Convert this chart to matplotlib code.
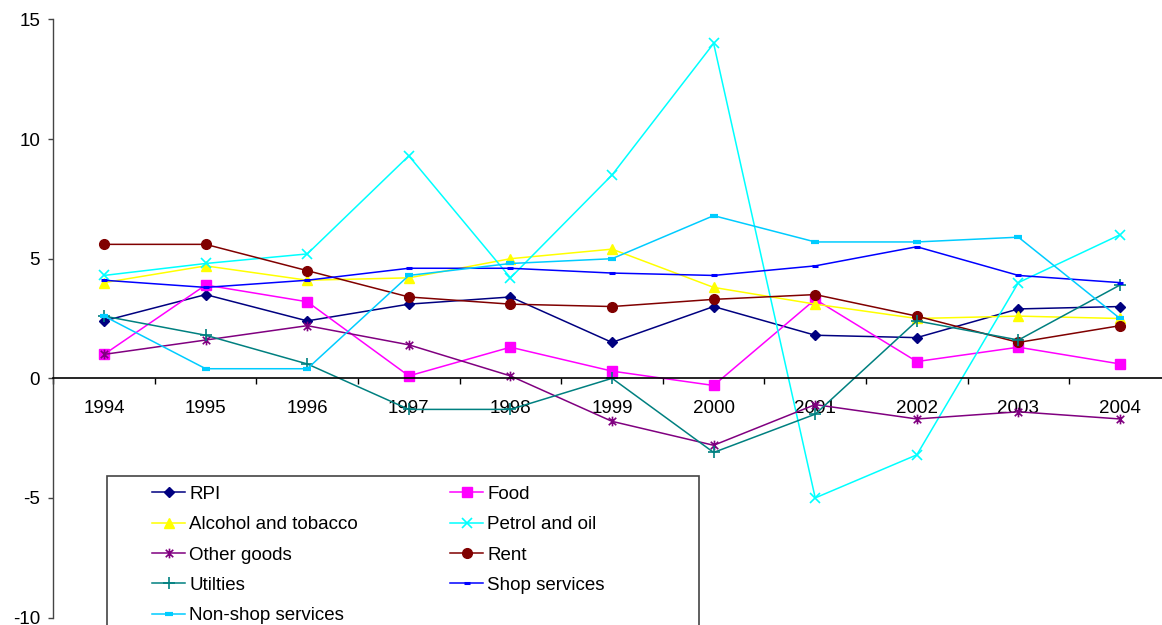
import matplotlib
matplotlib.use("Agg")
import matplotlib.pyplot as plt
from matplotlib.path import Path
from matplotlib.patches import Rectangle
import numpy as np

plt.rcParams['font.family'] = ['Liberation Sans', 'DejaVu Sans']
plt.rcParams['axes.unicode_minus'] = False

years = ['1994', '1995', '1996', '1997', '1998', '1999',
         '2000', '2001', '2002', '2003', '2004']

rpi = [2.4, 3.5, 2.4, 3.1, 3.4, 1.5, 3.0, 1.8, 1.7, 2.9, 3.0]
food = [1.0, 3.9, 3.2, 0.1, 1.3, 0.3, -0.3, 3.3, 0.7, 1.3, 0.6]
alcohol_tobacco = [4.0, 4.7, 4.1, 4.2, 5.0, 5.4, 3.8, 3.1, 2.5, 2.6, 2.5]
petrol_oil = [4.3, 4.8, 5.2, 9.3, 4.2, 8.5, 14.0, -5.0, -3.2, 4.0, 6.0]
other_goods = [1.0, 1.6, 2.2, 1.4, 0.1, -1.8, -2.8, -1.1, -1.7, -1.4, -1.7]
rent = [5.6, 5.6, 4.5, 3.4, 3.1, 3.0, 3.3, 3.5, 2.6, 1.5, 2.2]
utilities = [2.6, 1.8, 0.6, -1.3, -1.3, 0.0, -3.1, -1.5, 2.4, 1.6, 3.9]
shop_services = [4.1, 3.8, 4.1, 4.6, 4.6, 4.4, 4.3, 4.7, 5.5, 4.3, 4.0]
non_shop_services = [2.6, 0.4, 0.4, 4.3, 4.8, 5.0, 6.8, 5.7, 5.7, 5.9, 2.5]

# Excel-style star: an "x" crossed by a vertical stroke
star = Path([(-1, -1), (1, 1), (-1, 1), (1, -1), (0, -1.3), (0, 1.3)],
            [Path.MOVETO, Path.LINETO, Path.MOVETO, Path.LINETO,
             Path.MOVETO, Path.LINETO])

series = [
    ("RPI", rpi, dict(color='#000080', marker='D', ms=5, mfc='#000080')),
    ("Food", food, dict(color='#FF00FF', marker='s', ms=6.5, mfc='#FF00FF')),
    ("Alcohol and tobacco", alcohol_tobacco,
     dict(color='#FFFF00', marker='^', ms=7.5, mfc='#FFFF00')),
    ("Petrol and oil", petrol_oil,
     dict(color='#00FFFF', marker='x', ms=7, mew=1.2)),
    ("Other goods", other_goods,
     dict(color='#800080', marker=star, ms=7, mew=1.2)),
    ("Rent", rent, dict(color='#800000', marker='o', ms=7, mfc='#800000')),
    ("Utilties", utilities,
     dict(color='#008080', marker='+', ms=8, mew=1.2)),
    ("Shop services", shop_services,
     dict(color='#0000FF', marker='_', ms=4, mew=2.2)),
    ("Non-shop services", non_shop_services,
     dict(color='#00CCFF', marker='_', ms=6, mew=3)),
]

W, H = 1162, 625
fig = plt.figure(figsize=(W / 100, H / 100), dpi=100)

x0, x1 = 53.3, 1170.8
y_top, y_bot = 19.5, 617.5
ax = fig.add_axes([x0 / W, (H - y_bot) / H, (x1 - x0) / W, (y_bot - y_top) / H])

x = np.arange(len(years))
handles = {}
for name, vals, style in series:
    line, = ax.plot(x, vals, lw=1.1, label=name, clip_on=False, **style)
    handles[name] = line

ax.set_xlim(-0.5, len(years) - 0.5)
ax.set_ylim(-10, 15)
ax.set_yticks([-10, -5, 0, 5, 10, 15])
ax.tick_params(axis='y', direction='out', length=3.5, width=1,
               color='#444444', labelsize=13.5, pad=6)

# category boundaries carry the tick marks, labels sit at the centres
ax.set_xticks(np.arange(-0.5, len(years), 1.0))
ax.set_xticklabels([])
ax.set_xticks(x, minor=True)
ax.set_xticklabels(years, minor=True)
ax.tick_params(axis='x', which='major', direction='out', length=4, width=1)
ax.tick_params(axis='x', which='minor', length=0, labelsize=13.5, pad=15.5)

ax.spines['top'].set_visible(False)
ax.spines['right'].set_visible(False)
ax.spines['bottom'].set_position(('data', 0))
ax.spines['bottom'].set_color('black')
ax.spines['bottom'].set_linewidth(1.2)
ax.spines['left'].set_color('#444444')
ax.spines['left'].set_linewidth(1.0)

# legend box
fig.patches.append(Rectangle((107 / W, -0.05), (699 - 107) / W,
                             (H - 476) / H + 0.05, transform=fig.transFigure,
                             facecolor='white', edgecolor='#444444',
                             linewidth=1.2, zorder=5))

order = ["RPI", "Alcohol and tobacco", "Other goods", "Utilties",
         "Non-shop services", "Food", "Petrol and oil", "Rent", "Shop services"]
leg = fig.legend([handles[n] for n in order], order, ncol=2,
                 loc='upper left', bbox_to_anchor=(152 / W, (H - 485.5) / H),
                 frameon=False, borderpad=0, borderaxespad=0,
                 handlelength=1.76, handletextpad=0.22, columnspacing=4.92,
                 labelspacing=0.71, fontsize=13.5)
leg.set_zorder(6)

fig.savefig("out.png", dpi=100)
